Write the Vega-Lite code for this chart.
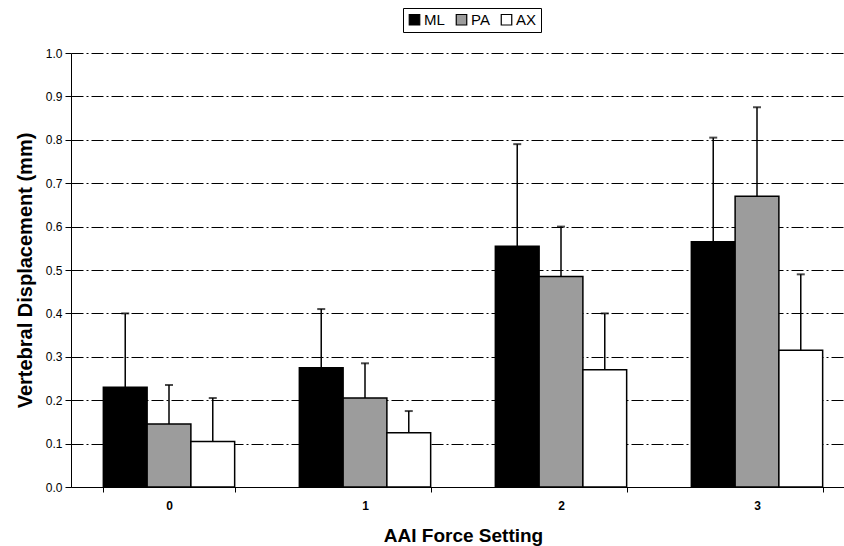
{
  "$schema": "https://vega.github.io/schema/vega-lite/v6.json",
  "autosize": {"type": "none"},
  "padding": {"left": 71, "top": 53, "right": 0, "bottom": 59},
  "width": 784,
  "height": 434,
  "background": "white",
  "data": {
    "values": [
      {"setting": "0", "series": "ML", "value": 0.23, "upper": 0.4},
      {"setting": "0", "series": "PA", "value": 0.145, "upper": 0.235},
      {"setting": "0", "series": "AX", "value": 0.105, "upper": 0.205},
      {"setting": "1", "series": "ML", "value": 0.275, "upper": 0.41},
      {"setting": "1", "series": "PA", "value": 0.205, "upper": 0.285},
      {"setting": "1", "series": "AX", "value": 0.125, "upper": 0.175},
      {"setting": "2", "series": "ML", "value": 0.555, "upper": 0.79},
      {"setting": "2", "series": "PA", "value": 0.485, "upper": 0.6},
      {"setting": "2", "series": "AX", "value": 0.27, "upper": 0.4},
      {"setting": "3", "series": "ML", "value": 0.565, "upper": 0.805},
      {"setting": "3", "series": "PA", "value": 0.67, "upper": 0.875},
      {"setting": "3", "series": "AX", "value": 0.315, "upper": 0.49}
    ]
  },
  "encoding": {
    "x": {
      "field": "setting", "type": "nominal",
      "scale": {"paddingInner": 0.33, "paddingOuter": 0.165},
      "axis": {
        "title": "AAI Force Setting", "labelAngle": 0, "tickBand": "extent",
        "titleFontSize": 19, "titleFontWeight": "bold", "titlePadding": 15,
        "labelFontSize": 12, "labelFontWeight": "bold", "labelPadding": 8,
        "domainColor": "black", "tickColor": "black", "tickSize": 5
      }
    },
    "xOffset": {"field": "series", "type": "nominal", "sort": ["ML", "PA", "AX"], "scale": {"paddingInner": 0}},
    "y": {
      "field": "value", "type": "quantitative",
      "scale": {"domain": [0, 1], "nice": false},
      "axis": {
        "title": "Vertebral Displacement (mm)", "format": ".1f", "tickCount": 10,
        "titleFontSize": 20, "titleFontWeight": "bold", "titlePadding": 10,
        "labelFontSize": 12, "labelPadding": 3,
        "domainColor": "black", "tickColor": "black", "tickSize": 6,
        "grid": true, "gridColor": "black", "gridWidth": 1, "gridDash": [12, 3, 2, 3]
      }
    }
  },
  "layer": [
    {
      "mark": {"type": "bar", "stroke": "black", "strokeWidth": 1.5},
      "encoding": {
        "fill": {
          "field": "series", "type": "nominal",
          "scale": {"domain": ["ML", "PA", "AX"], "range": ["black", "#9c9c9c", "white"]},
          "legend": {
            "orient": "none", "legendX": 332, "legendY": -45, "direction": "horizontal",
            "title": null, "symbolType": "square", "symbolSize": 110,
            "symbolStrokeColor": "black", "symbolStrokeWidth": 1.2,
            "labelFontSize": 15, "labelOffset": 2, "columnPadding": 8,
            "strokeColor": "black", "padding": 4
          }
        }
      }
    },
    {
      "mark": {"type": "rule", "color": "black", "strokeWidth": 1.5},
      "encoding": {"y2": {"field": "upper"}}
    },
    {
      "mark": {"type": "tick", "color": "black", "thickness": 2, "size": 8},
      "encoding": {"y": {"field": "upper", "type": "quantitative"}}
    }
  ],
  "config": {
    "font": "Liberation Sans",
    "view": {"stroke": null},
    "axis": {"labelColor": "black", "titleColor": "black"},
    "legend": {"labelColor": "black"}
  }
}
